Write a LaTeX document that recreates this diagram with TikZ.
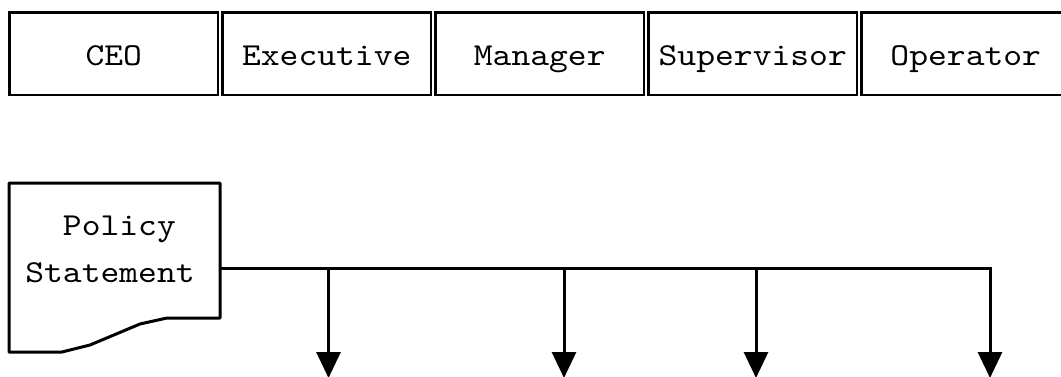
\documentclass[tikz,border=0pt]{standalone}
\usepackage{fontspec}
\newfontfamily\boxfont{lmmono10-regular}[Extension=.otf, FakeStretch=1.12]
\usetikzlibrary{arrows.meta}
\begin{document}
\begin{tikzpicture}[x=0.5pt,y=-0.5pt,
  label text/.style={font=\boxfont\fontsize{16}{21.5}\selectfont},
  role/.style={label text, draw, line width=1.4pt, minimum width=104.25pt,
    minimum height=41.25pt, inner sep=0pt, outer sep=0pt,
    text height=11.25pt, text depth=0pt},
  docline/.style={draw, line width=1.5pt, line join=round},
  wire/.style={line width=1.5pt},
  flow/.style={wire, -{Triangle[width=12pt,length=13pt]}}
]
\useasboundingbox (0,0) rectangle (1061,376);
\clip (0,0) rectangle (1061,376);

% role header row
\node[role] (ceo) at (113.75,53.75) {CEO};
\node[role] (exec) at (326.75,53.75) {Executive};
\node[role] (mgr) at (539.75,53.75) {Manager};
\node[role] (sup) at (752.75,53.75) {Supervisor};
\node[role] (op) at (965.75,53.75) {Operator};

% policy statement document
\draw[docline] (9,183) -- (220,183) -- (220,318) -- (167,318) -- (140,324)
  -- (90,345) -- (62,352) -- (9,352) -- cycle;
\node[label text, align=center, inner sep=0pt, text height=9pt, text depth=0pt]
  (policy) at (110,273) {\ Policy\\[2pt]Statement};

% distribution line
\coordinate (out) at (220,268);
\coordinate (j1) at (328.5,268);
\coordinate (j2) at (564,268);
\coordinate (j3) at (756,268);
\coordinate (j4) at (990,268);
\coordinate (e1) at (328.5,378);
\coordinate (e2) at (564,378);
\coordinate (e3) at (756,378);
\coordinate (e4) at (990,378);

\draw[flow, line join=miter] (out) -- (j4) -- (e4);
\draw[flow] (j1) -- (e1);
\draw[flow] (j2) -- (e2);
\draw[flow] (j3) -- (e3);
\end{tikzpicture}
\end{document}
